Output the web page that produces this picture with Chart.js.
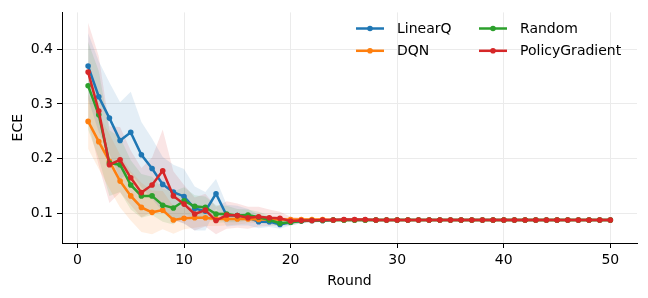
<!DOCTYPE html>
<html>
<head>
<meta charset="utf-8">
<script src="https://cdn.jsdelivr.net/npm/chart.js@4.4.1/dist/chart.umd.min.js"></script>
<style>
  html, body { margin: 0; padding: 0; background: #fff; }
  #wrap { width: 648px; height: 298px; }
</style>
</head>
<body>
<div id="wrap"><canvas id="c" width="648" height="298"></canvas></div>
<script>
const rounds = [1,2,3,4,5,6,7,8,9,10,11,12,13,14,15,16,17,18,19,20,21,22,23,24,25,
  26,27,28,29,30,31,32,33,34,35,36,37,38,39,40,41,42,43,44,45,46,47,48,49,50];

const linearQ = [0.369,0.313,0.274,0.233,0.248,0.207,0.182,0.153,0.139,0.131,
  0.109,0.104,0.136,0.096,0.096,0.093,0.085,0.085,0.080,0.084,
  0.086,0.087,0.087,0.088,0.088,0.088,0.088,0.088,0.088,0.088,
  0.088,0.088,0.088,0.088,0.088,0.088,0.088,0.088,0.088,0.088,
  0.088,0.088,0.088,0.088,0.088,0.088,0.088,0.088,0.088,0.088];
const dqn = [0.268,0.231,0.195,0.159,0.132,0.111,0.102,0.106,0.088,0.091,
  0.092,0.092,0.090,0.090,0.090,0.090,0.089,0.089,0.089,0.089,
  0.089,0.089,0.089,0.088,0.088,0.088,0.088,0.088,0.088,0.088,
  0.088,0.088,0.088,0.088,0.088,0.088,0.088,0.088,0.088,0.088,
  0.088,0.088,0.088,0.088,0.088,0.088,0.088,0.088,0.088,0.088];
const random = [0.333,0.280,0.192,0.189,0.152,0.132,0.132,0.115,0.110,0.123,
  0.113,0.111,0.099,0.099,0.096,0.097,0.093,0.088,0.082,0.084,
  0.086,0.087,0.087,0.088,0.088,0.088,0.088,0.088,0.088,0.088,
  0.088,0.088,0.088,0.088,0.088,0.088,0.088,0.088,0.088,0.088,
  0.088,0.088,0.088,0.088,0.088,0.088,0.088,0.088,0.088,0.088];
const policyGradient = [0.358,0.287,0.189,0.198,0.165,0.138,0.152,0.178,0.132,0.117,
  0.099,0.106,0.087,0.097,0.096,0.092,0.094,0.092,0.091,0.086,
  0.087,0.087,0.088,0.088,0.089,0.089,0.089,0.088,0.088,0.088,
  0.088,0.088,0.088,0.088,0.088,0.088,0.088,0.088,0.088,0.088,
  0.088,0.088,0.088,0.088,0.088,0.088,0.088,0.088,0.088,0.088];

// spread (std) around each curve
const linearQStd = [0.060,0.065,0.065,0.070,0.074,0.060,0.055,0.050,0.050,0.050,
  0.040,0.035,0.027,0.020,0.018,0.015,0.012,0.010,0.008,0.006,
  0.004,0.003,0.003,0.002,0.002,0.002,0.002,0.001,0.001,0.001,
  0.001,0.001,0.001,0.001,0.001,0.001,0.001,0.001,0.001,0.001,
  0.001,0.001,0.001,0.001,0.001,0.001,0.001,0.001,0.001,0.001];
const dqnStd = [0.050,0.050,0.050,0.048,0.045,0.045,0.040,0.035,0.025,0.020,
  0.018,0.015,0.013,0.012,0.010,0.008,0.006,0.005,0.004,0.003,
  0.003,0.002,0.002,0.002,0.002,0.001,0.001,0.001,0.001,0.001,
  0.001,0.001,0.001,0.001,0.001,0.001,0.001,0.001,0.001,0.001,
  0.001,0.001,0.001,0.001,0.001,0.001,0.001,0.001,0.001,0.001];
const randomStd = [0.080,0.080,0.060,0.050,0.045,0.040,0.035,0.030,0.030,0.025,
  0.020,0.020,0.016,0.015,0.012,0.010,0.010,0.008,0.006,0.004,
  0.003,0.002,0.002,0.002,0.002,0.001,0.001,0.001,0.001,0.001,
  0.001,0.001,0.001,0.001,0.001,0.001,0.001,0.001,0.001,0.001,
  0.001,0.001,0.001,0.001,0.001,0.001,0.001,0.001,0.001,0.001];
const policyGradientStd = [0.090,0.100,0.070,0.060,0.050,0.045,0.050,0.075,0.045,0.035,
  0.030,0.030,0.025,0.025,0.022,0.020,0.018,0.015,0.012,0.008,
  0.005,0.004,0.003,0.003,0.003,0.003,0.002,0.001,0.001,0.001,
  0.001,0.001,0.001,0.001,0.001,0.001,0.001,0.001,0.001,0.001,
  0.001,0.001,0.001,0.001,0.001,0.001,0.001,0.001,0.001,0.001];

const xTicks = [0, 10, 20, 30, 40, 50];
const yTicks = [0.1, 0.2, 0.3, 0.4];

const series = [
  { name: 'LinearQ', values: linearQ, std: linearQStd, color: '#1f77b4', band: 'rgba(31,119,180,0.12)' },
  { name: 'DQN', values: dqn, std: dqnStd, color: '#ff7f0e', band: 'rgba(255,127,14,0.12)' },
  { name: 'Random', values: random, std: randomStd, color: '#2ca02c', band: 'rgba(44,160,44,0.12)' },
  { name: 'PolicyGradient', values: policyGradient, std: policyGradientStd, color: '#d62728', band: 'rgba(214,39,40,0.12)' },
];

const datasets = [];
series.forEach((s, i) => {
  datasets.push({
    label: s.name + ' upper',
    data: rounds.map((r, k) => ({ x: r, y: s.values[k] + s.std[k] })),
    borderWidth: 0, pointRadius: 0, backgroundColor: s.band,
    fill: '+1', order: 20 + i,
  });
  datasets.push({
    label: s.name + ' lower',
    data: rounds.map((r, k) => ({ x: r, y: s.values[k] - s.std[k] })),
    borderWidth: 0, pointRadius: 0, fill: false, order: 20 + i,
  });
});
series.forEach((s, i) => {
  datasets.push({
    label: s.name,
    data: rounds.map((r, k) => ({ x: r, y: s.values[k] })),
    borderColor: s.color, backgroundColor: s.color,
    borderWidth: 2.5, pointRadius: 2.8, pointBorderWidth: 0,
    pointBackgroundColor: s.color, fill: false, tension: 0,
    order: 10 - i,
  });
});

// two-column legend, top right, like matplotlib
const legendPlugin = {
  id: 'twoColLegend',
  afterDraw(chart) {
    const ctx = chart.ctx;
    const cols = [
      { x: 356, items: [series[0], series[1]] },
      { x: 479, items: [series[2], series[3]] },
    ];
    ctx.save();
    ctx.font = '14px "DejaVu Sans"';
    ctx.textBaseline = 'middle';
    cols.forEach(col => {
      col.items.forEach((s, j) => {
        const y = 28.5 + j * 22.3;
        ctx.strokeStyle = s.color;
        ctx.lineWidth = 2.5;
        ctx.beginPath();
        ctx.moveTo(col.x, y);
        ctx.lineTo(col.x + 28, y);
        ctx.stroke();
        ctx.fillStyle = s.color;
        ctx.beginPath();
        ctx.arc(col.x + 14, y, 2.8, 0, Math.PI * 2);
        ctx.fill();
        ctx.fillStyle = '#000';
        ctx.fillText(s.name, col.x + 41, y + 1);
      });
    });
    ctx.restore();
  }
};

const font = { family: '"DejaVu Sans"', size: 14 };

new Chart(document.getElementById('c'), {
  type: 'line',
  data: { datasets },
  plugins: [legendPlugin],
  options: {
    responsive: false,
    animation: false,
    layout: { padding: { left: 0, right: 11, top: 10, bottom: 0 } },
    plugins: {
      legend: { display: false },
      tooltip: { enabled: false },
    },
    scales: {
      x: {
        type: 'linear',
        min: -1.45,
        max: 52.5,
        afterBuildTicks: scale => { scale.ticks = xTicks.map(v => ({ value: v })); },
        afterFit: scale => { scale.height = 55; },
        ticks: { font, color: '#000', padding: 4, callback: v => String(v) },
        grid: { color: '#ebebeb', tickColor: '#000', tickLength: 5, lineWidth: 1 },
        border: { color: '#000', width: 1 },
        title: { display: true, text: 'Round', font, color: '#000', padding: { top: 2, bottom: 8 } },
      },
      y: {
        type: 'linear',
        min: 0.046,
        max: 0.467,
        afterBuildTicks: scale => { scale.ticks = yTicks.map(v => ({ value: v })); },
        afterFit: scale => { scale.width = 62; },
        ticks: { font, color: '#000', padding: 4, callback: v => v.toFixed(1) },
        grid: { color: '#ebebeb', tickColor: '#000', tickLength: 5, lineWidth: 1 },
        border: { color: '#000', width: 1 },
        title: { display: true, text: 'ECE', font, color: '#000', padding: { top: 10, bottom: 6 } },
      },
    },
  },
});
</script>
</body>
</html>
